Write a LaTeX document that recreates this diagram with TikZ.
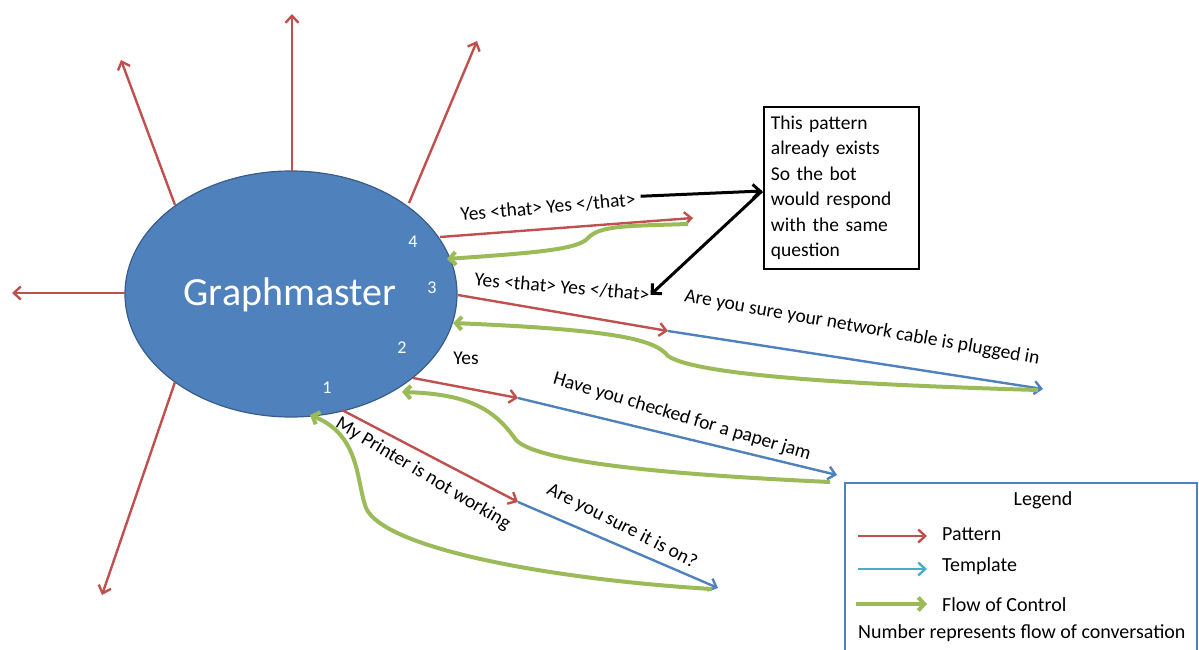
\documentclass[tikz,border=0pt]{standalone}
\usepackage{fontspec}
\setmainfont{Carlito}
\usetikzlibrary{arrows.meta,shapes.geometric}
\definecolor{patred}{HTML}{C0504D}
\definecolor{tplblue}{HTML}{4F81BD}
\definecolor{flowgreen}{HTML}{9BBB59}
\definecolor{legteal}{HTML}{4BACC6}
\definecolor{gmfill}{HTML}{4F81BD}
\definecolor{gmline}{HTML}{385D8A}
\begin{document}
\begin{tikzpicture}[x=1pt,y=-1pt,
  patarrow/.style={draw=patred, line width=2.4pt, -{Straight Barb[length=7pt,width=13pt]}},
  tplarrow/.style={draw=tplblue, line width=2.4pt, -{Straight Barb[length=7pt,width=13pt]}},
  flowarrow/.style={draw=flowgreen, line width=4pt, -{Straight Barb[length=6pt,width=13pt]}},
  notearrow/.style={draw=black, line width=3pt, -{Straight Barb[length=7pt,width=14pt]}},
  lbl/.style={font=\fontsize{19.5}{22}\selectfont, inner sep=1pt},
  num/.style={font=\fontsize{18}{20}\selectfont, text=white, inner sep=0pt},
  legtext/.style={font=\fontsize{20}{22}\selectfont, anchor=west, inner sep=0pt}]
\useasboundingbox (0,0) rectangle (1199,650);

% central graph node
\node[ellipse, draw=gmline, line width=1.2pt, fill=gmfill,
      minimum width=332pt, minimum height=246pt, inner sep=0pt] (gm) at (291,294) {};
\node[font=\fontsize{40}{46}\selectfont, text=white] (gmtext) at (290,295) {Graphmaster};
\node[num] (n4) at (413,242) {4};
\node[num] (n3) at (432,288) {3};
\node[num] (n2) at (402,348) {2};
\node[num] (n1) at (327,388) {1};

% unlabelled branches leaving the graph
\coordinate (sUp) at (292,171);   \coordinate (eUp) at (292,14);
\coordinate (sUL) at (175,205);   \coordinate (eUL) at (121,60);
\coordinate (sUR) at (409,203);   \coordinate (eUR) at (477,41);
\coordinate (sL)  at (125,293);   \coordinate (eL)  at (12,293);
\coordinate (sDL) at (175,382);   \coordinate (eDL) at (102,595);
\foreach \s/\e in {sUp/eUp, sUL/eUL, sUR/eUR, sL/eL, sDL/eDL}
  \draw[patarrow] (\s) -- (\e);

% conversation step 4
\coordinate (p4s) at (440,237);  \coordinate (p4e) at (693,218);
\coordinate (f4s) at (688,224);  \coordinate (f4e) at (447,259);
\draw[patarrow] (p4s) -- (p4e);
\draw[flowarrow] (f4s) .. controls (630,226) and (600,225) .. (588,238)
                       .. controls (578,250) and (530,253) .. (f4e);
\node[lbl, rotate=5] (l4) at (548,207) {Yes <that> Yes </that>};

% conversation step 3
\coordinate (p3s) at (458,295);  \coordinate (p3e) at (668,331);
\coordinate (t3e) at (1043,389);
\coordinate (f3s) at (1038,390); \coordinate (f3e) at (453,323);
\draw[patarrow] (p3s) -- (p3e);
\draw[tplarrow] (p3e) -- (t3e);
\draw[flowarrow] (f3s) .. controls (900,386) and (700,378) .. (668,356)
                       .. controls (655,340) and (620,330) .. (f3e);
\node[lbl, rotate=-5] (l3) at (562,287) {Yes <that> Yes </that>};
\node[lbl, rotate=-10] (r3) at (862,328) {Are you sure your network cable is plugged in};

% conversation step 2
\coordinate (p2s) at (413,378);  \coordinate (p2e) at (518,398);
\coordinate (t2e) at (837,475);
\coordinate (f2s) at (830,482);  \coordinate (f2e) at (402,392);
\draw[patarrow] (p2s) -- (p2e);
\draw[tplarrow] (p2e) -- (t2e);
\draw[flowarrow] (f2s) .. controls (700,476) and (540,465) .. (516,440)
                       .. controls (495,410) and (470,394) .. (f2e);
\node[lbl] (l2) at (466,358) {Yes};
\node[lbl, rotate=-16.5] (r2) at (682,417) {Have you checked for a paper jam};

% conversation step 1
\coordinate (p1s) at (342,410);  \coordinate (p1e) at (518,502);
\coordinate (t1e) at (718,588);
\coordinate (f1s) at (712,589);  \coordinate (f1e) at (310,415);
\draw[patarrow] (p1s) -- (p1e);
\draw[tplarrow] (p1e) -- (t1e);
\draw[flowarrow] (f1s) .. controls (560,580) and (385,550) .. (366,508)
                       .. controls (356,480) and (360,435) .. (f1e);
\node[lbl, rotate=-31] (l1) at (423,474) {My Printer is not working};
\node[lbl, rotate=-27] (r1) at (622,526) {Are you sure it is on?};

% explanatory note
\node[draw, line width=1.8pt, anchor=north west, align=left,
      text width=141pt, inner xsep=7pt, inner ysep=4pt, minimum height=162pt,
      font=\fontsize{19.5}{25.5}\selectfont] (note) at (763,106)
  {This pattern\\already exists\\So the bot\\would respond\\with the same\\question};
\coordinate (noteIn) at (762,191);
\draw[notearrow] (l4.east) ++(4,-3) coordinate (l4e) -- (noteIn);
\draw[notearrow] (noteIn) -- (l3.east);

% legend
\draw[draw=tplblue, line width=1.5pt] (845,655) |- (1197,483) -- (1197,655);
\node[font=\fontsize{20}{22}\selectfont] (legtitle) at (1043,500) {Legend};
\coordinate (lg1s) at (858,536); \coordinate (lg1e) at (927,536);
\coordinate (lg2s) at (858,569); \coordinate (lg2e) at (927,569);
\coordinate (lg3s) at (856,604); \coordinate (lg3e) at (927,604);
\draw[patarrow] (lg1s) -- (lg1e);
\draw[draw=legteal, line width=2.4pt, -{Straight Barb[length=7pt,width=13pt]}] (lg2s) -- (lg2e);
\draw[flowarrow] (lg3s) -- (lg3e);
\node[legtext] (lgp) at (942,534) {Pattern};
\node[legtext] (lgt) at (942,566) {Template};
\node[legtext] (lgf) at (942,605) {Flow of Control};
\node[legtext] (lgn) at (858,633) {Number represents flow of conversation};
\end{tikzpicture}
\end{document}
